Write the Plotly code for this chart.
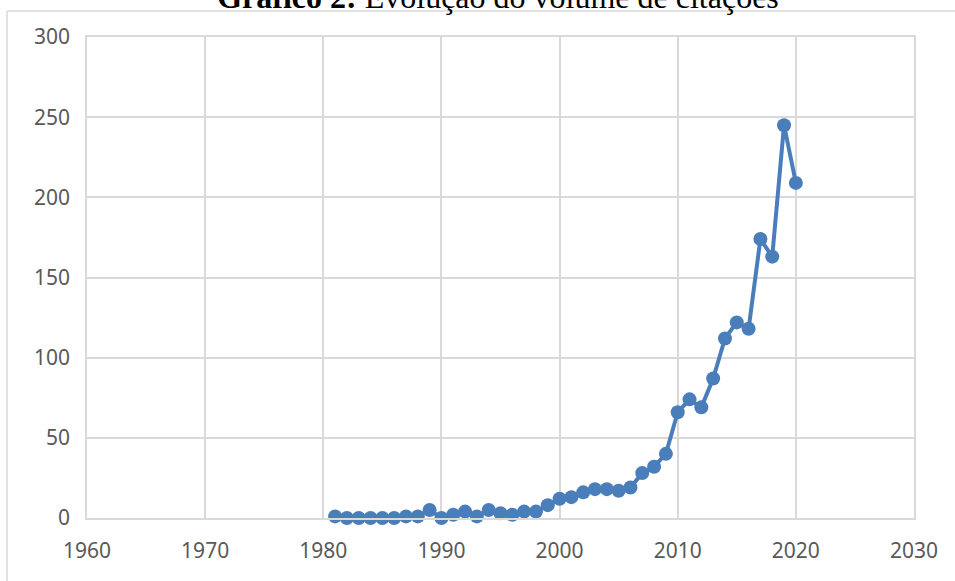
import plotly.graph_objects as go

years = list(range(1981, 2021))
citations = [1, 0, 0, 0, 0, 0, 1, 1, 5, 0,
             2, 4, 1, 5, 3, 2, 4, 4, 8, 12,
             13, 16, 18, 18, 17, 19, 28, 32, 40, 66,
             74, 69, 87, 112, 122, 118, 174, 163, 245, 209]

x_ticks = [1960, 1970, 1980, 1990, 2000, 2010, 2020, 2030]
y_ticks = [0, 50, 100, 150, 200, 250, 300]

W, H = 955, 581
L, R, T, B = 87, 41, 37, 63
pw, ph = W - L - R, H - T - B

def px_x(p):
    return (p - L) / pw

def px_y(p):
    return 1 - (p - T) / ph

blue = "#4a7ebb"
grid = "#d9d9d9"
tick_font = dict(family="Noto Sans", size=21, color="#595959")

fig = go.Figure()
fig.add_trace(go.Scatter(
    x=years, y=citations, mode="lines+markers",
    line=dict(color=blue, width=4),
    marker=dict(color=blue, size=14),
    showlegend=False, cliponaxis=False, hoverinfo="skip",
))

fig.update_layout(
    width=W, height=H,
    margin=dict(l=L, r=R, t=T, b=B, autoexpand=False),
    paper_bgcolor="white", plot_bgcolor="white",
    title=dict(text="<b>Gráfico 2:</b> Evolução do volume de citações",
               font=dict(family="Liberation Serif", size=32, color="black"),
               xref="container", yref="container", x=498 / W, xanchor="center",
               y=1 - 8 / H, yanchor="bottom", automargin=False),
    xaxis=dict(range=[1960, 2030], tickvals=x_ticks, ticktext=[str(v) for v in x_ticks],
               showgrid=True, gridcolor=grid, gridwidth=1.5,
               showline=True, linecolor=grid, linewidth=1.5, mirror=True,
               zeroline=False, tickfont=tick_font, ticks="", ticklabelstandoff=13,
               automargin=False),
    yaxis=dict(range=[0, 300], tickvals=y_ticks, ticktext=[str(v) for v in y_ticks],
               showgrid=True, gridcolor=grid, gridwidth=1.5,
               showline=True, linecolor=grid, linewidth=1.5, mirror=True,
               zeroline=False, tickfont=tick_font, ticks="", ticklabelstandoff=11,
               automargin=False),
)

# chart area frame (top and left edges visible)
fig.add_shape(type="line", xref="paper", yref="paper",
              x0=px_x(7), x1=px_x(956), y0=px_y(11), y1=px_y(11),
              line=dict(color="#d9d9d9", width=1.5))
fig.add_shape(type="line", xref="paper", yref="paper",
              x0=px_x(7), x1=px_x(7), y0=px_y(11), y1=px_y(590),
              line=dict(color="#d9d9d9", width=1.5))

fig.write_html("out.html", config={"displayModeBar": False},
               post_script="document.body.style.margin='0';document.body.style.overflow='hidden';")
